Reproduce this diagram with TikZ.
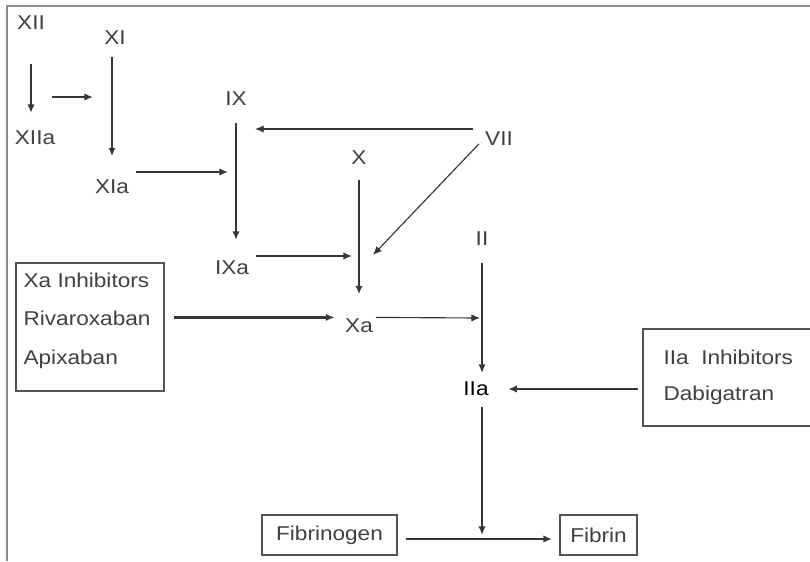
\documentclass[tikz,border=0pt]{standalone}
\usepackage{fontspec}
\setmainfont{Liberation Sans}[FakeStretch=1.13]
\usetikzlibrary{positioning,arrows.meta}
\definecolor{ink}{HTML}{404040}
\definecolor{framegray}{HTML}{8C8C8C}

\begin{document}
\begin{tikzpicture}[x=0.75pt, y=-0.75pt, font=\fontsize{15}{29}\selectfont,
  every node/.style={inner sep=1pt, text=ink},
  arr/.style={-{Latex[length=6.5pt,width=5.5pt]}, draw=ink!85!black, line width=1.8pt},
  midarr/.style={-{Latex[length=6.5pt,width=5.5pt]}, draw=ink!85!black, line width=1.25pt},
  thinarr/.style={-{Latex[length=6.5pt,width=5.5pt]}, draw=ink!85!black, line width=0.85pt},
  inhib/.style={draw=ink!90, line width=1.4pt, inner sep=0pt}]
\useasboundingbox (0,0) rectangle (810,561);
\clip (0,0) rectangle (810,561);
% --- frame ---
\draw[framegray, line width=1.5pt] (7,561) -- (7,6) -- (810,6);
% --- factors ---
\foreach \nm/\x/\y/\txt in {xii/31/23/XII, xiia/35/138/XIIa, xi/115/38/XI, xia/112/187/XIa,
    ix/236/99/IX, ixa/232/268/IXa, vii/499/139/VII, x/359/158/X, xa/359/326/Xa, ii/482/239/II}
  \node (\nm) at (\x,\y) {\txt};
\node[text=black] (iia) at (476,389) {IIa};
% --- inhibitors and products ---
\node[inhib, minimum width=111pt, minimum height=96pt, anchor=north west] (xainh) at (15,262) {};
\node[align=left, anchor=north west] (xatext) at (22,271) {Xa Inhibitors\\Rivaroxaban\\Apixaban};
\node[inhib, minimum width=130pt, minimum height=72.75pt, anchor=north west] (iiainh) at (642,328) {};
\node[align=left, anchor=north west] (iiatext) at (662,348) {IIa\ \ Inhibitors\\[-2pt]Dabigatran};
\node[inhib, minimum width=101.25pt, minimum height=30pt] (fibrinogen) at (329.5,535) {Fibrinogen};
\node[inhib, minimum width=57.75pt, minimum height=30pt] (fibrin) at (598.5,535) {Fibrin};
% --- junctions ---
\coordinate (xiiout) at (52,97);
\coordinate (xiin) at (93,97);
\coordinate (ixjoin) at (228,172);
\coordinate (ixtip) at (255,129);
\coordinate (xjoin1) at (352,256);
\coordinate (xjoin2) at (373,255);
\coordinate (iijoin) at (480,318);
\coordinate (fjoin) at (482,535);
% --- cascade ---
\draw[midarr, shorten <=24.75pt, shorten >=18.75pt] (xii) -- (xii |- xiia);
\draw[midarr] (xiiout) -- (xiin);
\draw[arr, shorten <=14.25pt, shorten >=16.5pt] (xia |- xi) -- (xia);
\draw[midarr, shorten <=3.75pt] (xia.east |- ixjoin) -- (ixjoin);
\draw[midarr, shorten <=12pt, shorten >=21pt] (ix) -- (ix |- ixa);
\draw[thinarr, shorten <=8.25pt] (vii.west |- ixtip) -- (ixtip);
\draw[arr, shorten <=10.5pt, shorten >=17.25pt] (x) -- (xa);
\draw[thinarr, shorten <=5pt] (vii.west) -- (xjoin2);
\draw[thinarr, shorten <=4pt] (ixa.north east |- xjoin1) -- (xjoin1);
\draw[arr, shorten <=6.75pt, shorten >=6.75pt] (xainh.east |- xa.north west) -- (xa.north west);
\draw[thinarr, shorten <=1pt] (xa.north east) -- (iijoin);
\draw[arr, shorten <=12pt, shorten >=12pt] (ii) -- (ii |- iia);
\draw[arr, shorten <=3pt, shorten >=13.5pt] (iiainh.west |- iia) -- (iia.east);
\draw[arr, shorten <=13.5pt] (ii |- iia) -- (fjoin);
\draw[arr, shorten <=6pt, shorten >=5.25pt] ([yshift=-3pt]fibrinogen.east) -- ([yshift=-3pt]fibrin.west);
\end{tikzpicture}
\end{document}
